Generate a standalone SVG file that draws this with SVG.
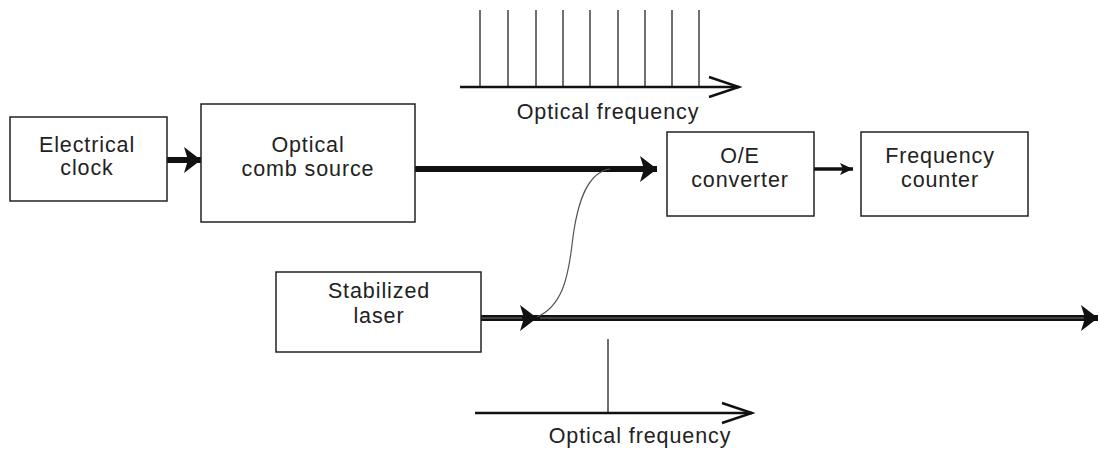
<svg xmlns="http://www.w3.org/2000/svg" width="1100" height="450" viewBox="0 0 1100 450">
<style>
.box{fill:#fff;stroke:#222;stroke-width:1.5}
.t{font-family:"Liberation Sans",Arial,sans-serif;font-size:21.5px;letter-spacing:0.9px;fill:#222;text-anchor:middle}
.thick{stroke:#111;stroke-width:6;fill:none}
.inner{stroke:#777;stroke-width:1;fill:none}
.axis{stroke:#111;stroke-width:2.5;fill:none}
.tooth{stroke:#222;stroke-width:1.3}
</style>
<defs>
<marker id="big" markerUnits="userSpaceOnUse" markerWidth="18" markerHeight="26" refX="17" refY="13" orient="auto"><path d="M0,0 L17,13 L0,26 L4,13 Z" fill="#111"/></marker>
<marker id="small" markerUnits="userSpaceOnUse" markerWidth="14" markerHeight="14" refX="13" refY="7" orient="auto"><path d="M0,1 L13,7 L0,13 L3,7 Z" fill="#111"/></marker>
<marker id="open" markerUnits="userSpaceOnUse" markerWidth="36" markerHeight="24" refX="33" refY="12" orient="auto"><path d="M3,2 L33,12 L3,22" fill="none" stroke="#111" stroke-width="2.5"/></marker>
</defs>
<g id="spectrum-top">
<g class="tooth">
<line x1="480" y1="10" x2="480" y2="87"/><line x1="508" y1="10" x2="508" y2="87"/><line x1="536" y1="10" x2="536" y2="87"/><line x1="563" y1="10" x2="563" y2="87"/><line x1="590" y1="10" x2="590" y2="87"/><line x1="618" y1="10" x2="618" y2="87"/><line x1="645" y1="10" x2="645" y2="87"/><line x1="672" y1="10" x2="672" y2="87"/><line x1="699" y1="10" x2="699" y2="87"/>
</g>
<line class="axis" x1="460" y1="87" x2="739" y2="87" marker-end="url(#open)"/>
<text class="t" x="608" y="119">Optical frequency</text>
</g>
<g id="spectrum-bottom">
<line class="tooth" x1="608" y1="339" x2="608" y2="413"/>
<line class="axis" x1="475" y1="413" x2="752" y2="413" marker-end="url(#open)"/>
<text class="t" x="640" y="443">Optical frequency</text>
</g>
<g id="connectors">
<line class="thick" x1="167" y1="160" x2="201" y2="160" marker-end="url(#big)"/>
<line class="thick" x1="415" y1="169" x2="657" y2="169" marker-end="url(#big)"/>
<line x1="814" y1="169" x2="853" y2="169" stroke="#111" stroke-width="3.5" marker-end="url(#small)"/>
<line class="thick" x1="481" y1="318" x2="537" y2="318" marker-end="url(#big)"/>
<line class="inner" x1="481" y1="318" x2="522" y2="318"/>
<line class="thick" x1="537" y1="318" x2="1098" y2="318" marker-end="url(#big)"/>
<line class="inner" x1="540" y1="318" x2="1084" y2="318"/>
<path d="M537,317 C562,306 568,278 572,245 C577,200 588,172 610,169" fill="none" stroke="#555" stroke-width="1.2"/>
</g>
<g id="electrical-clock">
<rect class="box" x="10" y="117" width="157" height="84"/>
<text class="t" x="87" y="152">Electrical</text>
<text class="t" x="87" y="175">clock</text>
</g>
<g id="comb-source">
<rect class="box" x="201" y="104" width="214" height="118"/>
<text class="t" x="308" y="152">Optical</text>
<text class="t" x="308" y="176">comb source</text>
</g>
<g id="oe-converter">
<rect class="box" x="667" y="132" width="147" height="84"/>
<text class="t" x="740" y="163">O/E</text>
<text class="t" x="740" y="187">converter</text>
</g>
<g id="frequency-counter">
<rect class="box" x="861" y="132" width="167" height="84"/>
<text class="t" x="940" y="163">Frequency</text>
<text class="t" x="940" y="187">counter</text>
</g>
<g id="stabilized-laser">
<rect class="box" x="276" y="272" width="205" height="80"/>
<text class="t" x="379" y="298">Stabilized</text>
<text class="t" x="379" y="323">laser</text>
</g>
</svg>
